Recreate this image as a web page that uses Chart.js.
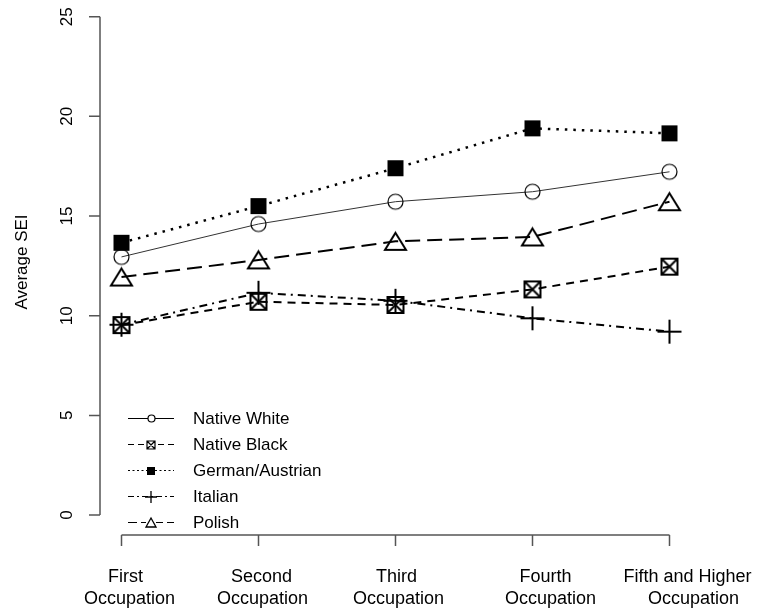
<!DOCTYPE html>
<html>
<head>
<meta charset="utf-8">
<script src="https://cdn.jsdelivr.net/npm/chart.js@4.4.1/dist/chart.umd.min.js"></script>
<style>
  html, body { margin: 0; padding: 0; background: #fff; }
  #wrap { width: 757px; height: 612px; }
</style>
</head>
<body>
<div id="wrap"><canvas id="seiChart" width="757" height="612"></canvas></div>
<script>
// values
const categories = ['First Occupation', 'Second Occupation', 'Third Occupation', 'Fourth Occupation', 'Fifth and Higher Occupation'];
const categoryLines = [['First', 'Occupation'], ['Second', 'Occupation'], ['Third', 'Occupation'], ['Fourth', 'Occupation'], ['Fifth and Higher', 'Occupation']];
const nativeWhite = [12.95, 14.6, 15.72, 16.22, 17.22];
const nativeBlack = [9.53, 10.7, 10.54, 11.32, 12.46];
const germanAustrian = [13.66, 15.5, 17.4, 19.4, 19.15];
const italian = [9.55, 11.15, 10.75, 9.87, 9.2];
const polish = [11.94, 12.8, 13.73, 13.95, 15.72];
const yTicks = [0, 5, 10, 15, 20, 25];
const seriesNames = ['Native White', 'Native Black', 'German/Austrian', 'Italian', 'Polish'];

const font = '"Liberation Sans", Arial, sans-serif';
const axisColor = '#555';
// label nudges (px) — the R labels sit a bit right of their ticks
const labelShift = [[4, 8], [3, 4], [1, 3], [13, 18], [18, 24]];

// R-style symbols drawn on small canvases
function marker(kind, w, h, lw) {
    const pad = 3;
    const c = document.createElement('canvas');
    c.width = Math.ceil(w + pad * 2);
    c.height = Math.ceil(h + pad * 2);
    const g = c.getContext('2d');
    const cx = c.width / 2, cy = c.height / 2;
    g.strokeStyle = '#000';
    g.fillStyle = '#000';
    g.lineWidth = lw;
    g.beginPath();
    if (kind === 'circle') {
        g.arc(cx, cy, w / 2, 0, Math.PI * 2);
        g.stroke();
    } else if (kind === 'boxX') {
        g.rect(cx - w / 2, cy - h / 2, w, h);
        g.moveTo(cx - w / 2, cy - h / 2); g.lineTo(cx + w / 2, cy + h / 2);
        g.moveTo(cx + w / 2, cy - h / 2); g.lineTo(cx - w / 2, cy + h / 2);
        g.stroke();
    } else if (kind === 'square') {
        g.fillRect(cx - w / 2, cy - h / 2, w, h);
    } else if (kind === 'plus') {
        g.moveTo(cx - w / 2, cy); g.lineTo(cx + w / 2, cy);
        g.moveTo(cx, cy - h / 2); g.lineTo(cx, cy + h / 2);
        g.stroke();
    } else if (kind === 'triangle') {
        g.moveTo(cx, cy - h / 2);
        g.lineTo(cx + w / 2, cy + h / 2);
        g.lineTo(cx - w / 2, cy + h / 2);
        g.closePath();
        g.stroke();
    }
    return c;
}

const bigMarkers = [
    marker('circle', 15, 15, 1.2),
    marker('boxX', 16, 16, 2),
    marker('square', 16, 16, 0),
    marker('plus', 24, 24, 2),
    marker('triangle', 21, 17, 2)
];
const smallMarkers = [
    marker('circle', 7, 7, 1.2),
    marker('boxX', 8, 8, 1.2),
    marker('square', 8, 8, 0),
    marker('plus', 12, 12, 1.3),
    marker('triangle', 10, 9, 1.3)
];
const lineDashes = [[], [8, 6], [2.5, 6], [8, 5, 2, 5], [15, 7]];
const lineWidths = [1, 2, 2.5, 2, 2];
const lineColors = ['#333', '#000', '#000', '#000', '#000'];
const legendDashes = [[], [6, 4], [2, 2.5], [6, 3, 2, 3], [9, 4]];

const seriesValues = [nativeWhite, nativeBlack, germanAustrian, italian, polish];

const datasets = seriesValues.map((vals, i) => ({
    label: seriesNames[i],
    data: vals,
    borderColor: lineColors[i],
    borderWidth: lineWidths[i],
    borderDash: lineDashes[i],
    borderCapStyle: 'butt',
    pointStyle: bigMarkers[i],
    pointRadius: 5,
    tension: 0,
    fill: false,
    clip: false
}));

const rAxes = {
    id: 'rAxes',
    afterDraw(chart) {
        const ctx = chart.ctx;
        const xs = chart.scales.x, ys = chart.scales.y;
        const axisX = chart.chartArea.left - 21.5;
        const axisY = chart.chartArea.bottom;
        ctx.save();
        ctx.strokeStyle = axisColor;
        ctx.lineWidth = 1.5;

        // y axis
        const yTop = ys.getPixelForValue(yTicks[yTicks.length - 1]);
        const yBot = ys.getPixelForValue(yTicks[0]);
        ctx.beginPath();
        ctx.moveTo(axisX, yTop); ctx.lineTo(axisX, yBot);
        yTicks.forEach(v => {
            const p = ys.getPixelForValue(v);
            ctx.moveTo(axisX, p); ctx.lineTo(axisX - 11, p);
        });
        // x axis
        const x0 = xs.getPixelForValue(0), x1 = xs.getPixelForValue(categories.length - 1);
        ctx.moveTo(x0, axisY); ctx.lineTo(x1, axisY);
        categories.forEach((c, i) => {
            const p = xs.getPixelForValue(i);
            ctx.moveTo(p, axisY); ctx.lineTo(p, axisY + 11);
        });
        ctx.stroke();

        ctx.fillStyle = '#000';
        ctx.font = '17px ' + font;
        ctx.textAlign = 'center';
        ctx.textBaseline = 'middle';
        yTicks.forEach(v => {
            const p = ys.getPixelForValue(v);
            ctx.save();
            ctx.translate(axisX - 33, p);
            ctx.rotate(-Math.PI / 2);
            ctx.fillText(String(v), 0, 0);
            ctx.restore();
        });
        ctx.save();
        ctx.translate(22, 262);
        ctx.rotate(-Math.PI / 2);
        ctx.fillText('Average SEI', 0, 0);
        ctx.restore();

        ctx.font = '18px ' + font;
        categoryLines.forEach((lines, i) => {
            const p = xs.getPixelForValue(i);
            ctx.fillText(lines[0], p + labelShift[i][0], axisY + 42);
            ctx.fillText(lines[1], p + labelShift[i][1], axisY + 64);
        });

        // legend (no box, like R bty="n")
        ctx.textAlign = 'left';
        ctx.font = '17px ' + font;
        seriesNames.forEach((name, i) => {
            const ly = 418.5 + i * 26;
            ctx.strokeStyle = '#000';
            ctx.lineWidth = 1;
            ctx.setLineDash(legendDashes[i]);
            ctx.beginPath();
            ctx.moveTo(128, ly); ctx.lineTo(174, ly);
            ctx.stroke();
            ctx.setLineDash([]);
            const m = smallMarkers[i];
            const mx = Math.round(151 - m.width / 2), my = Math.round(ly - m.height / 2);
            if (i !== 3) ctx.clearRect(mx + 3, my + 3, m.width - 6, m.height - 6);
            ctx.drawImage(m, mx, my);
            ctx.fillStyle = '#000';
            ctx.fillText(name, 193, ly + 1);
        });
        ctx.restore();
    }
};

new Chart(document.getElementById('seiChart'), {
    type: 'line',
    data: { labels: categories, datasets: datasets },
    options: {
        responsive: false,
        devicePixelRatio: 1,
        animation: false,
        layout: { padding: { left: 121.5, right: 87.5, top: 16.7, bottom: 77 } },
        plugins: { legend: { display: false }, tooltip: { enabled: false } },
        scales: {
            x: { type: 'category', display: false, offset: false },
            y: { type: 'linear', display: false, min: -1, max: 25 }
        }
    },
    plugins: [rAxes]
});
</script>
</body>
</html>
